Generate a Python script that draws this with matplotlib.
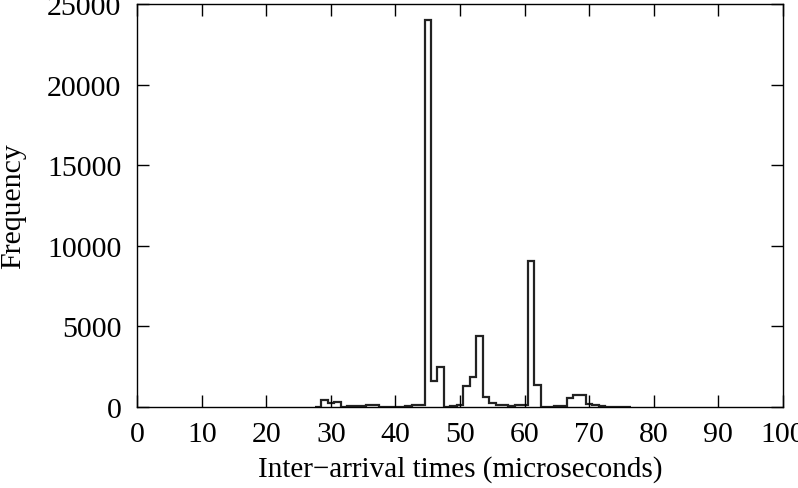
import numpy as np
import matplotlib
matplotlib.use("Agg")
import matplotlib.pyplot as plt

# histogram of inter-arrival times, 1 us bins
bin_centers = np.arange(28, 77)
counts = [0, 430, 280, 290, 30, 60, 60, 60, 120, 130,
          30, 20, 20, 30, 40, 100, 150, 24000, 1600, 2500,
          30, 50, 100, 1320, 1840, 4390, 600, 250, 150, 100,
          80, 100, 150, 9050, 1350, 30, 20, 40, 80, 560,
          760, 720, 200, 150, 60, 30, 20, 10, 0]
xticks = np.arange(0, 101, 10)
yticks = np.arange(0, 25001, 5000)

plt.rcParams['font.family'] = ['Liberation Serif', 'DejaVu Serif']
plt.rcParams['font.size'] = 21.5

fig = plt.figure(figsize=(7.98, 4.89), dpi=100)
ax = fig.add_axes([0.172, 0.1656, 0.809, 0.8242])

edges = np.append(bin_centers - 0.5, bin_centers[-1] + 0.5)
ax.stairs(counts, edges, color="#222222", linewidth=1.6)

ax.set_xlim(0, 100)
ax.set_ylim(0, 25000)
ax.set_xticks(xticks)
ax.set_yticks(yticks)
ax.tick_params(direction="in", length=8.5, width=1, top=True, right=True)
ax.tick_params(axis="x", pad=10)
ax.tick_params(axis="y", pad=11.5)
for s in ax.spines.values():
    s.set_linewidth(1)

ax.set_xlabel("Inter\u2212arrival times (microseconds)", fontsize=21, labelpad=6)
ax.set_ylabel("Frequency", labelpad=15)

fig.savefig("out.png", dpi=100)
